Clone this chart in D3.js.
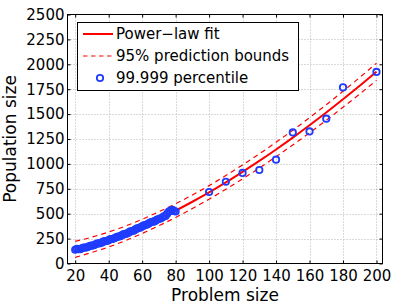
<!DOCTYPE html>
<html>
<head>
<meta charset="utf-8">
<script src="https://cdn.jsdelivr.net/npm/d3@7"></script>
<style>
  body { margin: 0; background: #fff; }
  svg { display: block; font-family: "DejaVu Sans", sans-serif; }
</style>
</head>
<body>
<svg id="chart" width="405" height="305"></svg>
<script>
// measured percentile points (problem size -> population size)
const problemSize = [20, 21, 22, 23, 24, 25, 26, 27, 28, 29, 30, 31, 32, 33, 34, 35, 36, 37, 38, 39,
                     40, 41, 42, 43, 44, 45, 46, 47, 48, 49, 50, 51, 52, 53, 54, 55, 56, 57, 58, 59,
                     60, 61, 62, 63, 64, 65, 66, 67, 68, 69, 70, 71, 72, 73, 74, 75, 76, 77, 78, 79, 80,
                     100, 110, 120, 130, 140, 150, 160, 170, 180, 200];
const popSize = [138, 146, 145, 144, 152, 160, 160, 162, 170, 178, 180, 182, 190, 200, 202, 204, 212, 222, 224, 226,
                 234, 244, 246, 250, 258, 268, 270, 274, 284, 294, 298, 300, 312, 322, 326, 330, 342, 352, 356, 362,
                 372, 382, 386, 392, 402, 414, 418, 420, 430, 442, 446, 452, 462, 474, 478, 500, 522, 530, 538, 528, 522,
                 718, 821, 909, 939, 1042, 1316, 1326, 1454, 1768, 1923];

// power-law fit and 95% prediction bounds, read at every 10
const fitX = [20, 30, 40, 50, 60, 70, 80, 90, 100, 110, 120, 130, 140, 150, 160, 170, 180, 190, 200];
const fitY = [142, 188, 241, 303, 373, 450, 531, 620, 714, 814, 920, 1030, 1145, 1264, 1388, 1516, 1649, 1785, 1925];
const upperY = [222, 265, 316, 376, 444, 520, 600, 688, 782, 883, 990, 1101, 1217, 1338, 1464, 1594, 1729, 1868, 2011];
const lowerY = [62, 111, 166, 230, 302, 380, 462, 552, 646, 745, 850, 959, 1073, 1190, 1312, 1438, 1569, 1702, 1839];

const xTicks = [20, 40, 60, 80, 100, 120, 140, 160, 180, 200];
const yTicks = [0, 250, 500, 750, 1000, 1250, 1500, 1750, 2000, 2250, 2500];

const legendLabels = ['Power\u2212law fit', '95% prediction bounds', '99.999 percentile'];

const svg = d3.select('#chart');
const plotL = 67.5, plotR = 382.5, plotT = 14.5, plotB = 263.5;

const x = d3.scaleLinear().domain([15.4, 203.6]).range([plotL, plotR]);
const y = d3.scaleLinear().domain([0, 2500]).range([plotB, plotT]);

//grid
const grid = svg.append('g')
    .attr('stroke', '#b4b4b4')
    .attr('stroke-width', 1)
    .attr('stroke-dasharray', '1,2');
grid.selectAll('.gx').data(xTicks).enter().append('line')
    .attr('x1', d => Math.round(x(d)) + 0.5).attr('x2', d => Math.round(x(d)) + 0.5)
    .attr('y1', plotT).attr('y2', plotB);
grid.selectAll('.gy').data(yTicks.filter(d => d > 0 && d < 2500)).enter().append('line')
    .attr('y1', d => Math.round(y(d)) + 0.5).attr('y2', d => Math.round(y(d)) + 0.5)
    .attr('x1', plotL).attr('x2', plotR);

//fit lines
const fitPts = fitX.map((v, i) => ({x: v, fit: fitY[i], up: upperY[i], lo: lowerY[i]}));
const line = key => d3.line().x(d => x(d.x)).y(d => y(d[key])).curve(d3.curveMonotoneX);

['up', 'lo'].forEach(k => {
    svg.append('path')
        .datum(fitPts)
        .attr('d', line(k))
        .attr('fill', 'none')
        .attr('stroke', '#ff0000')
        .attr('stroke-width', 1.2)
        .attr('stroke-dasharray', '5,4');
});
svg.append('path')
    .datum(fitPts)
    .attr('d', line('fit'))
    .attr('fill', 'none')
    .attr('stroke', '#ff0000')
    .attr('stroke-width', 2);

//points
svg.append('g').selectAll('circle')
    .data(problemSize.map((v, i) => ({x: v, y: popSize[i]})))
    .enter().append('circle')
    .attr('cx', d => x(d.x))
    .attr('cy', d => y(d.y))
    .attr('r', 3.2)
    .attr('fill', 'none')
    .attr('stroke', '#1f3cff')
    .attr('stroke-width', 1.8);

//axes
svg.append('g')
    .attr('transform', `translate(0,${plotB})`)
    .call(d3.axisBottom(x).tickValues(xTicks).tickSize(-3).tickPadding(7).tickFormat(d3.format('d')));
svg.append('g')
    .attr('transform', `translate(${plotL},0)`)
    .call(d3.axisLeft(y).tickValues(yTicks).tickSize(-3).tickPadding(3).tickFormat(d3.format('d')));
svg.append('g')
    .attr('transform', `translate(0,${plotT})`)
    .call(d3.axisTop(x).tickValues(xTicks).tickSize(-3).tickFormat(''));
svg.append('g')
    .attr('transform', `translate(${plotR},0)`)
    .call(d3.axisRight(y).tickValues(yTicks).tickSize(-3).tickFormat(''));

svg.selectAll('.domain').remove();
svg.selectAll('.tick line').attr('stroke', '#000');
svg.selectAll('.tick text')
    .attr('font-family', '"DejaVu Sans", sans-serif')
    .attr('font-size', 15)
    .attr('fill', '#000');

svg.append('rect')
    .attr('x', plotL).attr('y', plotT)
    .attr('width', plotR - plotL).attr('height', plotB - plotT)
    .attr('fill', 'none').attr('stroke', '#000').attr('stroke-width', 1);

//axis labels
svg.append('text')
    .attr('x', (plotL + plotR) / 2).attr('y', 300.5)
    .attr('text-anchor', 'middle')
    .attr('font-size', 17)
    .text('Problem size');
svg.append('text')
    .attr('transform', `translate(16,${(plotT + plotB) / 2}) rotate(-90)`)
    .attr('text-anchor', 'middle')
    .attr('font-size', 17)
    .text('Population size');

//legend
const legend = svg.append('g');
legend.append('rect')
    .attr('x', 77.5).attr('y', 22.5)
    .attr('width', 221).attr('height', 68)
    .attr('fill', '#fff').attr('stroke', '#000').attr('stroke-width', 1);
const rowY = [34, 56, 78];
legend.append('line')
    .attr('x1', 83).attr('x2', 113).attr('y1', rowY[0]).attr('y2', rowY[0])
    .attr('stroke', '#ff0000').attr('stroke-width', 2);
legend.append('line')
    .attr('x1', 83).attr('x2', 113).attr('y1', rowY[1]).attr('y2', rowY[1])
    .attr('stroke', '#ff0000').attr('stroke-width', 1.2).attr('stroke-dasharray', '4.5,3.5');
legend.append('circle')
    .attr('cx', 100).attr('cy', rowY[2]).attr('r', 3.2)
    .attr('fill', 'none').attr('stroke', '#1f3cff').attr('stroke-width', 1.8);
legend.selectAll('.lt').data(legendLabels).enter().append('text')
    .attr('x', 116)
    .attr('y', (d, i) => rowY[i])
    .attr('dy', '0.36em')
    .attr('font-size', 15)
    .text(d => d);
</script>
</body>
</html>
